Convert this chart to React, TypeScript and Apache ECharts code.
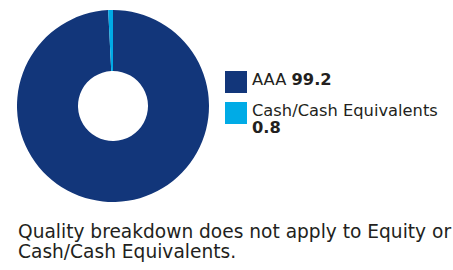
import React, { useEffect, useRef } from "react";
import * as echarts from "echarts";

const categories = ["AAA", "Cash/Cash Equivalents"];
const values = [99.2, 0.8];
const colors = ["#12367a", "#00abe6"];
const footnote = "Quality breakdown does not apply to Equity or\nCash/Cash Equivalents.";

const FONT = "'DejaVu Sans', sans-serif";
const TXT = "#231f20";

export default function App() {
  const ref = useRef<HTMLDivElement>(null);
  useEffect(() => {
    document.body.style.margin = "0";
    const chart = echarts.init(ref.current!, undefined, { renderer: "svg" });
    const legendTops = [71, 102];
    const wrapValue = [false, true];
    const legendGraphics: any[] = [];
    categories.forEach((c, i) => {
      legendGraphics.push({
        type: "rect",
        shape: { x: 225, y: legendTops[i], width: 22, height: 22 },
        style: { fill: colors[i] },
      });
      const lineY = legendTops[i] + 8.5;
      const rich = {
        b: { fontWeight: "bold", fontSize: 16.3, fontFamily: FONT, fill: TXT },
      };
      if (!wrapValue[i]) {
        legendGraphics.push({
          type: "text",
          x: 252,
          y: lineY,
          style: {
            text: `${c} {b|${values[i].toFixed(1)}}`,
            font: `16.3px ${FONT}`,
            fill: TXT,
            verticalAlign: "middle",
            rich,
          },
        });
      } else {
        legendGraphics.push({
          type: "text",
          x: 252,
          y: lineY - 0.5,
          style: { text: c, font: `16.3px ${FONT}`, fill: TXT, verticalAlign: "middle" },
        });
        legendGraphics.push({
          type: "text",
          x: 252,
          y: lineY + 17,
          style: {
            text: values[i].toFixed(1),
            font: `bold 16.3px ${FONT}`,
            fill: TXT,
            verticalAlign: "middle",
          },
        });
      }
    });
    chart.setOption({
      animation: false,
      series: [
        {
          type: "pie",
          center: [113, 106],
          radius: [35, 96],
          startAngle: 90,
          clockwise: true,
          label: { show: false },
          labelLine: { show: false },
          emphasis: { disabled: true },
          itemStyle: { borderWidth: 0 },
          data: categories.map((c, i) => ({
            name: c,
            value: values[i],
            itemStyle: { color: colors[i] },
          })),
        },
      ],
      graphic: [
        ...legendGraphics,
        {
          type: "text",
          x: 18,
          y: 241.5,
          style: {
            text: footnote,
            font: `18.6px ${FONT}`,
            fill: TXT,
            verticalAlign: "middle",
            lineHeight: 19.5,
          },
        },
      ],
    });
    return () => chart.dispose();
  }, []);
  return <div ref={ref} style={{ width: 453, height: 270 }} />;
}
